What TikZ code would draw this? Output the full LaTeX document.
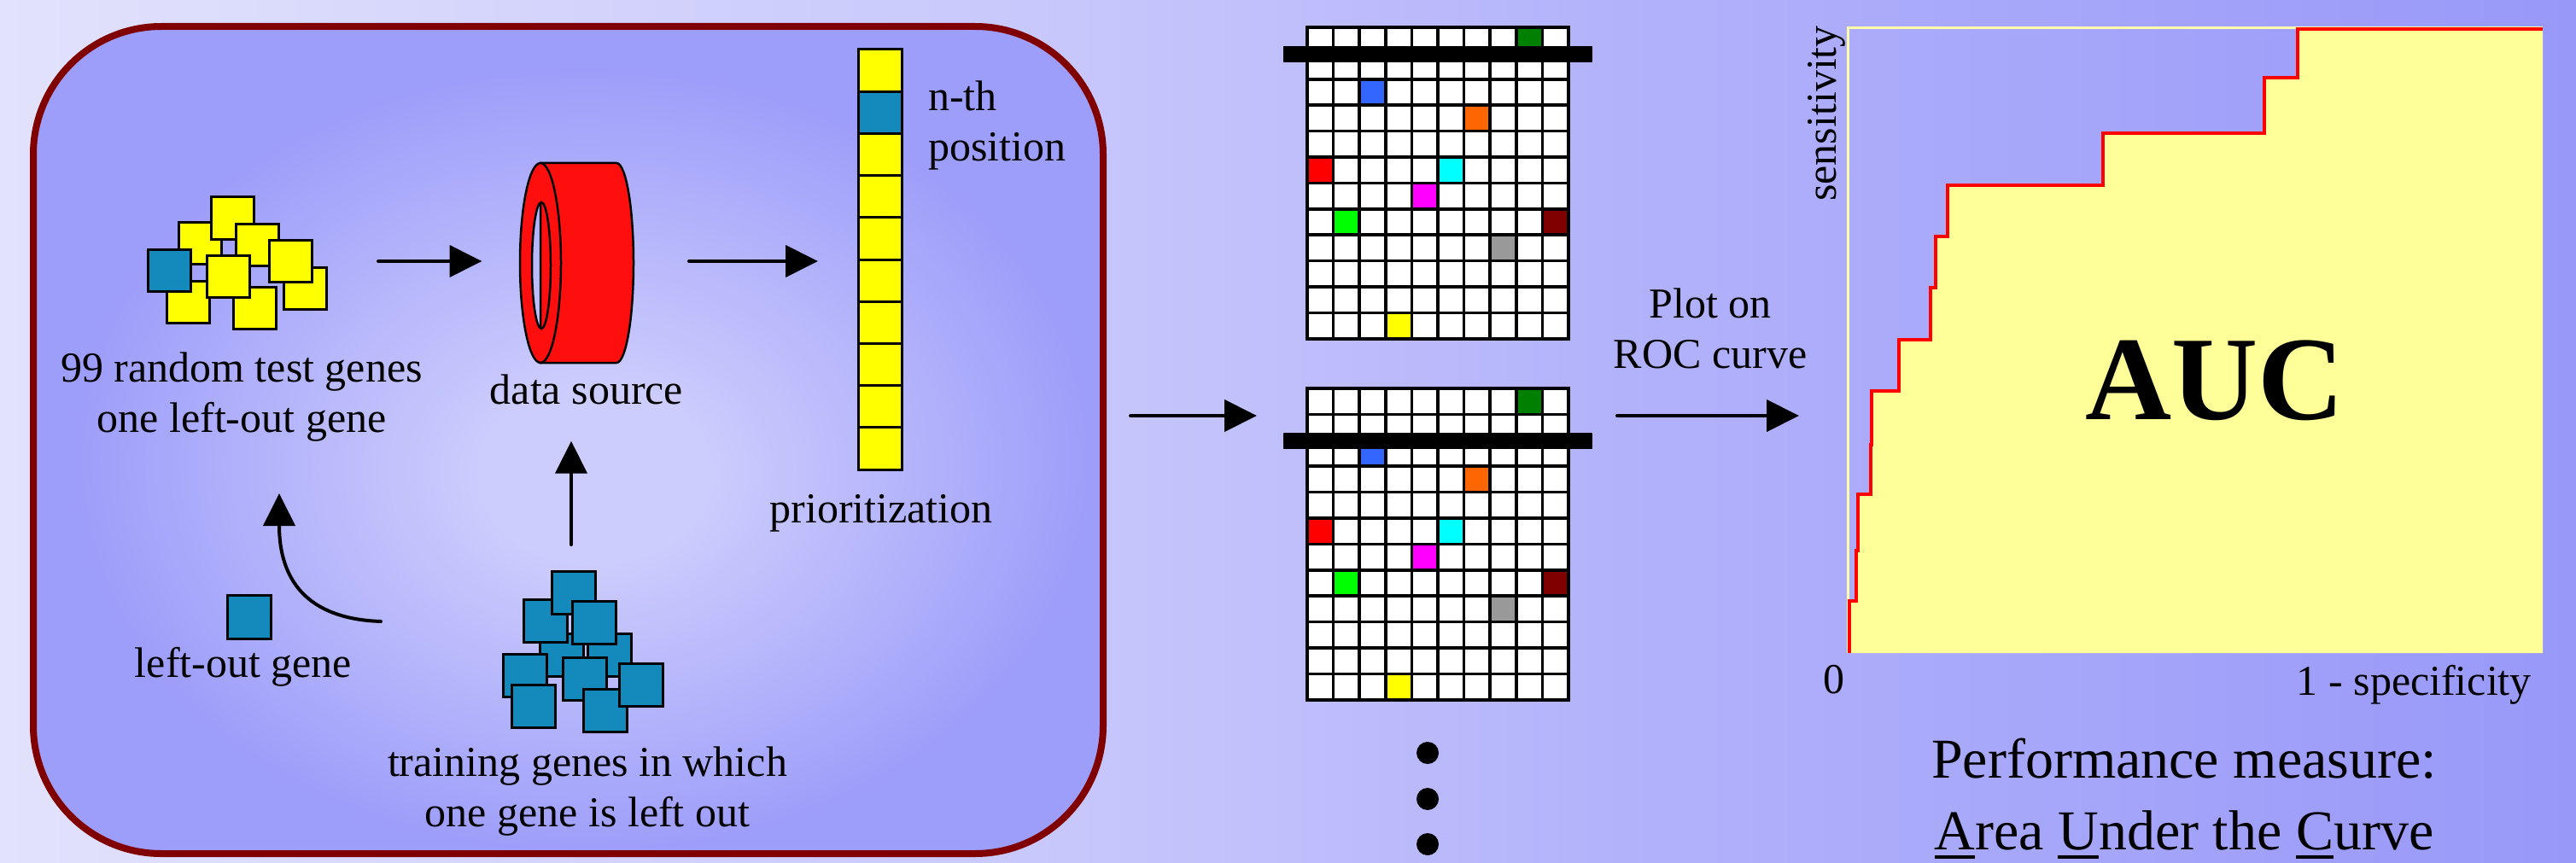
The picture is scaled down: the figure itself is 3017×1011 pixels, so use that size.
\documentclass[tikz,border=0pt]{standalone}
\usepackage{fontspec}
\setmainfont{Liberation Serif}
\usetikzlibrary{arrows.meta}

% palette
\definecolor{slideL}{RGB}{226,226,252}
\definecolor{slideM1}{RGB}{198,198,252}
\definecolor{slideM2}{RGB}{178,178,251}
\definecolor{slideR}{RGB}{152,152,249}
\definecolor{glowIn}{RGB}{205,205,253}
\definecolor{glowOut}{RGB}{157,157,250}
\definecolor{framered}{RGB}{128,0,0}
\definecolor{geneblue}{RGB}{20,138,188}
\definecolor{geneyellow}{RGB}{255,255,0}
\definecolor{diskred}{RGB}{255,14,14}
\definecolor{aucfill}{RGB}{255,255,153}
\definecolor{aucedge}{RGB}{255,255,170}
\definecolor{cDarkGreen}{RGB}{0,128,0}
\definecolor{cBlue}{RGB}{51,102,255}
\definecolor{cOrange}{RGB}{255,102,0}
\definecolor{cRed}{RGB}{255,0,0}
\definecolor{cCyan}{RGB}{0,255,255}
\definecolor{cMagenta}{RGB}{255,0,255}
\definecolor{cGreen}{RGB}{0,255,0}
\definecolor{cMaroon}{RGB}{128,0,0}
\definecolor{cGray}{RGB}{153,153,153}
\definecolor{cYellow}{RGB}{255,255,0}

% slide background: light on the left, deeper violet on the right
\pgfdeclarehorizontalshading{slidebg}{100bp}{color(0bp)=(slideL); color(25bp)=(slideL);
  color(46.5bp)=(slideM1); color(56.5bp)=(slideM2); color(75bp)=(slideR); color(100bp)=(slideR)}
% soft glow inside the workflow panel
\pgfdeclareradialshading{panelglow}{\pgfpoint{1.4bp}{-2.3bp}}{color(0bp)=(glowIn);
  color(5bp)=(glowIn); color(24bp)=(glowOut); color(50bp)=(glowOut)}

% underlined initial letter
\newcommand\initialmark[1]{\leavevmode\setbox0\hbox{#1}\rlap{\rule[-11pt]{\wd0}{4pt}}\box0}

\tikzset{
  hold/.style={inner sep=0pt, outer sep=0pt, minimum width=#1},
  lbl/.style={font=\fontsize{50}{59}\selectfont, inner sep=0pt, align=center, anchor=base},
  gene/.style={draw=black, line width=3pt},
  rankcell/.style={draw=black, line width=3pt, fill=geneyellow},
  gridcell/.style={draw=black, line width=3.5pt, fill=white},
  arr/.style={line width=4pt, line cap=round, -{Triangle[length=38pt,width=37pt]}},
  panel/.style={rectangle, inner sep=0pt, minimum width=1253pt, minimum height=969pt,
    rounded corners=150pt, draw=framered, line width=8pt, shade, shading=panelglow},
}

\begin{document}
\begin{tikzpicture}[x=1pt,y=-1pt]
\useasboundingbox (0,0) rectangle (3017,1011);
\shade[shading=slidebg] (0,0) rectangle (3017,1011);

% ---------- workflow panel ----------
\node[panel] (panel) at (665.5,515.5) {};

% 99 random test genes plus the left-out gene
\node[hold=210pt, minimum height=160pt] (testset) at (278,306) {};
\foreach \px/\py/\pc in {209/260/geneyellow, 247/231/geneyellow, 276/262/geneyellow,
    332/313/geneyellow, 315/281/geneyellow, 195/329/geneyellow, 273/336/geneyellow,
    173/292/geneblue, 242/299/geneyellow}
  \draw[gene, fill=\pc] (\px,\py) rectangle ++(50,49);
% multi-line labels are anchored on the baseline of their last line
\node[lbl] (testlabel) at (283,506) {99 random test genes\\one left-out gene};

% data source drawn as a ring-shaped cylinder
\node[hold=135pt, minimum height=234pt] (disk) at (676,306) {};
\filldraw[fill=diskred, draw=black, line width=2.5pt] (633,191) -- (722,191)
  arc[start angle=90, end angle=-90, x radius=20pt, y radius=117pt] -- (633,425) -- cycle;
\filldraw[fill=diskred, draw=black, line width=2.5pt, even odd rule]
  (633,308) ellipse [x radius=24pt, y radius=117pt]
  (634,311) ellipse [x radius=11pt, y radius=74pt];
\node[lbl] (disklabel) at (687,473) {data source};

% prioritized list
\node[hold=51pt, minimum height=492pt] (ranking) at (1030.5,306) {};
\foreach \k in {0,...,9}
  \draw[rankcell] (1005,{58+49.2*\k}) rectangle ++(51,49.2);
\draw[rankcell, fill=geneblue] (1005,107.2) rectangle ++(51,49.2);
\node[lbl, anchor=base west, align=left] (nthlabel) at (1087,189) {n-th\\position};
\node[lbl] (ranklabel) at (1032,612) {prioritization};

% left-out gene
\draw[gene, fill=geneblue] (266,697) rectangle ++(51,51);
\node[lbl] (leftlabel) at (285,793) {left-out gene};

% training genes
\node[hold=190pt, minimum height=189pt] (trainset) at (669,763.5) {};
\foreach \px/\py in {632/742, 688/742, 613/702, 646/669, 670/704, 589/766,
    659/770, 683/807, 725/777, 599/802}
  \draw[gene, fill=geneblue] (\px,\py) rectangle ++(51,50);
\node[lbl] (trainlabel) at (688,968) {training genes in which\\one gene is left out};

% flow inside the panel
\draw[arr, shorten <=60pt, shorten >=44pt] (testset.east) -- (disk.west);
\draw[arr, shorten <=63.5pt, shorten >=47pt] (disk.east) -- (ranking.west);
\draw[arr, shorten <=31pt, shorten >=43pt] (trainset.north) -- (trainset.north |- disklabel.south);
\coordinate (curvefrom) at (446,728);
\coordinate (curveto) at (327,578);
\draw[arr] (curvefrom) .. controls (360,725) and (327,680) .. (curveto);

% ---------- ranking matrices ----------
\node[hold=306pt, minimum height=365pt] (grid1) at (1684,214.5) {};
\node[hold=306pt, minimum height=365pt] (grid2) at (1684,637.5) {};
\foreach \gtop/\gcut in {32/63.5, 455/516.5} {
  \foreach \r in {0,...,11}
    \foreach \c in {0,...,9}
      \draw[gridcell] ({1531+30.6*\c},{\gtop+30.4*\r}) rectangle ++(30.6,30.4);
  \foreach \c/\r/\cc in {9/1/cDarkGreen, 3/3/cBlue, 7/4/cOrange, 1/6/cRed, 6/6/cCyan,
      5/7/cMagenta, 2/8/cGreen, 10/8/cMaroon, 8/9/cGray, 4/12/cYellow}
    \draw[gridcell, fill=\cc] ({1531+30.6*(\c-1)},{\gtop+30.4*(\r-1)}) rectangle ++(30.6,30.4);
  \fill[black] (1503,{\gcut-9.5}) rectangle (1865,{\gcut+9.5});
}
\foreach \dy in {882,936,989}
  \fill[black] (1672,\dy) circle (13pt);

\coordinate (gridin) at (1531,487);
\draw[arr, shorten <=28pt, shorten >=59pt] (panel.east |- gridin) -- (gridin);

% ---------- ROC curve ----------
\node[hold=814pt, minimum height=732pt] (roc) at (2571,399) {};
\coordinate (gridout) at (1837,487);
\draw[arr, shorten <=57pt, shorten >=57pt] (gridout) -- (roc.west |- gridout);
\node[lbl] (plotlabel) at (2003,431) {Plot on\\ROC curve};

\fill[aucfill] (2166,765) -- (2166,704) -- (2174,704) -- (2174,645) -- (2176,645)
  -- (2176,579) -- (2191,579) -- (2191,521) -- (2192,521) -- (2192,458) -- (2224,458)
  -- (2224,398) -- (2261,398) -- (2261,337) -- (2267,337) -- (2267,277) -- (2281,277)
  -- (2281,217) -- (2463,217) -- (2463,156) -- (2652,156) -- (2652,91) -- (2691,91)
  -- (2691,34) -- (2978,34) -- (2978,765) -- cycle;
\draw[aucedge, line width=3pt] (2164,765) -- (2164,33) -- (2978,33);
\draw[cRed, line width=4.5pt] (2166,765) -- (2166,704) -- (2174,704) -- (2174,645) -- (2176,645)
  -- (2176,579) -- (2191,579) -- (2191,521) -- (2192,521) -- (2192,458) -- (2224,458)
  -- (2224,398) -- (2261,398) -- (2261,337) -- (2267,337) -- (2267,277) -- (2281,277)
  -- (2281,217) -- (2463,217) -- (2463,156) -- (2652,156) -- (2652,91) -- (2691,91)
  -- (2691,34) -- (2978,34);

\node[lbl, rotate=90] (senslabel) at (2150,133) {sensitivity};
\node[lbl] (zerolabel) at (2148,812) {0};
\node[lbl, anchor=base east] (speclabel) at (2965,814) {1 - specificity};
\node[lbl, font=\fontsize{140}{160}\selectfont\bfseries] (auclabel) at (2594,491) {AUC};
\node[lbl, font=\fontsize{66}{84}\selectfont] (perflabel) at (2558,995)
  {Performance measure:\\\initialmark{A}rea \initialmark{U}nder the \initialmark{C}urve};
\end{tikzpicture}
\end{document}
